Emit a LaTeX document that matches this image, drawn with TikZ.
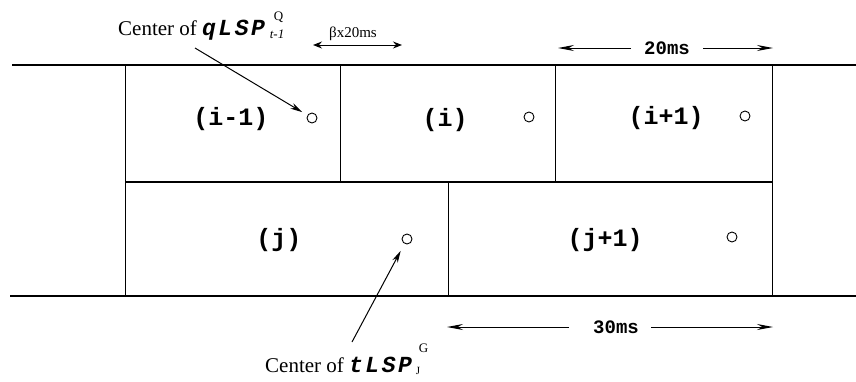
\documentclass[tikz,border=0pt]{standalone}
\usepackage{fontspec}
\setmainfont{Liberation Serif}
\newfontfamily\cour{Liberation Mono}
\usetikzlibrary{arrows.meta}
\begin{document}
\begin{tikzpicture}[x=1pt,y=-1pt,
  frame/.style={line width=1.5pt},
  sep/.style={line width=1pt},
  lbl/.style={font=\cour\bfseries\fontsize{25}{25}\selectfont, inner sep=0pt},
  ctr/.style={circle,draw,line width=0.9pt,minimum size=10pt,inner sep=0pt},
  dim/.style={font=\cour\bfseries\fontsize{19}{19}\selectfont, inner ysep=0pt, inner xsep=13pt},
  dimarrow/.style={line width=1pt,-{Stealth[length=16pt,width=6pt]}},
  ptr/.style={line width=1pt,-{Stealth[length=12pt,width=6pt]}},
  note/.style={font=\fontsize{21}{21}\selectfont, inner sep=0pt, anchor=base west},
]
\useasboundingbox (0,0) rectangle (856,381);
% frame grid
\draw[frame] (12,65) -- (856,65);
\draw[frame] (10,296) -- (856,296);
\draw[frame] (125,182) -- (772,182);
\draw[sep] (125,65) -- (125,296);
\draw[sep] (772,65) -- (772,296);
\draw[sep] (340,65) -- (340,182);
\draw[sep] (555,65) -- (555,182);
\draw[sep] (448,182) -- (448,296);
% labels
\node[lbl] (im1) at (231,119) {(i-1)};
\node[lbl] (i) at (445,120) {(i)};
\node[lbl] (ip1) at (666,118) {(i+1)};
\node[lbl] (j) at (279,240) {(j)};
\node[lbl] (jp1) at (605,240) {(j+1)};
% centres
\node[ctr] (c1) at (312,118) {};
\node[ctr] (c2) at (529,117) {};
\node[ctr] (c3) at (745,116) {};
\node[ctr] (c4) at (407,239) {};
\node[ctr] (c5) at (732,237) {};
% notes
\node[note] (n1) at (118,35) {Center of {\cour\bfseries\itshape\fontsize{23}{23}\selectfont q\kern2.5pt L\kern2.5pt S\kern2.5pt P}\kern5pt\rlap{\kern4pt\raisebox{15pt}{\fontsize{13}{13}\selectfont Q}}\raisebox{-3pt}{\fontsize{13}{13}\selectfont\itshape t-1}};
\node[note] (n2) at (265,372) {Center of {\cour\bfseries\itshape\fontsize{23}{23}\selectfont t\kern2.5pt L\kern2.5pt S\kern2.5pt P}\kern4pt\rlap{\kern3pt\raisebox{20pt}{\fontsize{13}{13}\selectfont G}}\raisebox{-2pt}{\fontsize{11}{11}\selectfont J}};
\coordinate (p1) at (195,48);
\coordinate (p2) at (352,342);
\draw[ptr, shorten >=6pt] (p1) -- (c1);
\draw[ptr, shorten >=8pt] (p2) -- (c4);
% dimensions
\node[font=\fontsize{15}{15}\selectfont, inner sep=0pt] (beta) at (353,34) {βx20ms};
\coordinate (b1) at (313,45);
\coordinate (b2) at (402,45);
\draw[line width=1pt, {Stealth[length=9pt,width=7pt,inset=3pt]}-{Stealth[length=9pt,width=7pt,inset=3pt]}] (b1) -- (b2);
\node[dim] (t20) at (667,48) {20ms};
\coordinate (a20l) at (558,48);
\coordinate (a20r) at (773,48);
\draw[dimarrow] (t20) -- (a20l);
\draw[dimarrow] (t20) -- (a20r);
\node[dim, inner xsep=12pt] (t30) at (616,327) {30ms};
\coordinate (a30l) at (447,327);
\coordinate (a30r) at (773,327);
\draw[dimarrow, shorten <=12pt] (t30) -- (a30l);
\draw[dimarrow] (t30) -- (a30r);
\end{tikzpicture}
\end{document}
